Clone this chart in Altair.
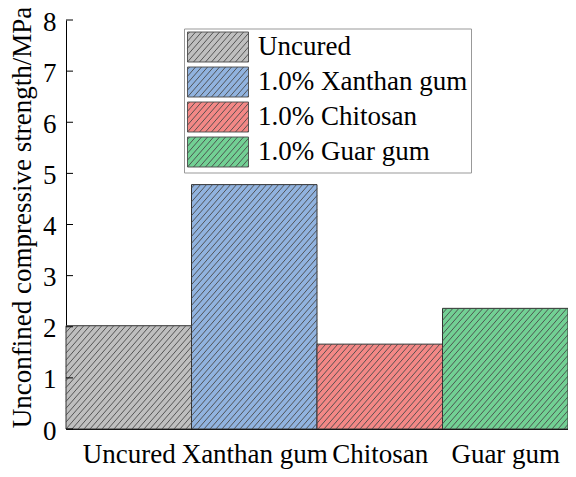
import json
import math
import altair as alt
import pandas as pd

# ---- data ----
categories = ["Uncured", "Xanthan gum", "Chitosan", "Guar gum"]
legend_labels = ["Uncured", "1.0% Xanthan gum", "1.0% Chitosan", "1.0% Guar gum"]
strength = [2.02, 4.78, 1.66, 2.36]
fill_colors = ["#bfbfbf", "#91b3df", "#f38886", "#72d094"]
y_ticks = [0, 1, 2, 3, 4, 5, 6, 7, 8]

# ---- layout / style constants ----
PLOT_W = 502
PLOT_H = 409
Y_MAX = 8
FONT = "Liberation Serif"
FS = 27
HATCH_STEP = 6.0     # px, horizontal spacing of hatch lines
HATCH_SLOPE = 1.15   # px up per px right
HATCH_COLOR = "#4a4a4a"

n = len(categories)
px_x = PLOT_W / n
px_y = PLOT_H / Y_MAX

bars = pd.DataFrame({
    "cat": categories,
    "legend": legend_labels,
    "value": strength,
    "x0": [i for i in range(n)],
    "x1": [i + 1 for i in range(n)],
})

# hatch segments clipped to each bar (derived from the bar values)
rows = []
for i, v in enumerate(strength):
    L, R, H = i * px_x, (i + 1) * px_x, v * px_y
    k0 = math.floor((L - H / HATCH_SLOPE) / HATCH_STEP) - 1
    k1 = math.ceil(R / HATCH_STEP) + 1
    for k in range(k0, k1 + 1):
        c = k * HATCH_STEP
        ylo = max(0.0, HATCH_SLOPE * (L - c))
        yhi = min(H, HATCH_SLOPE * (R - c))
        if yhi - ylo > 0.5:
            rows.append({
                "hx": (c + ylo / HATCH_SLOPE) / px_x,
                "hx2": (c + yhi / HATCH_SLOPE) / px_x,
                "hy": ylo / px_y,
                "hy2": yhi / px_y,
            })
hatch = pd.DataFrame(rows)

# legend symbol: 61x30 px rectangle with hatch lines (unit = 15 px)
SYM_W, SYM_H, UNIT = 61.0, 30.0, 15.0
segs = []
for k in range(-10, 20):
    c = k * HATCH_STEP
    hlo = max(0.0, HATCH_SLOPE * (0 - c))
    hhi = min(SYM_H, HATCH_SLOPE * (SYM_W - c))
    if hhi - hlo > 0.5:
        xa, ya = c + hlo / HATCH_SLOPE, SYM_H - hlo
        xb, yb = c + hhi / HATCH_SLOPE, SYM_H - hhi
        segs.append("M%.3f,%.3fL%.3f,%.3f" % (xa / UNIT - 1, ya / UNIT - 1, xb / UNIT - 1, yb / UNIT - 1))
sym_path = "M-1,-1H%.3fV1H-1Z" % (SYM_W / UNIT - 1) + "".join(segs)

ticks_df = pd.DataFrame({"t": y_ticks})

x_scale = alt.Scale(domain=[0, n], nice=False, zero=False)
y_scale = alt.Scale(domain=[0, Y_MAX], nice=False)

label_expr = json.dumps(categories) + "[floor(datum.value)]"

bar_layer = alt.Chart(bars).mark_rect(stroke="#333333", strokeWidth=1).encode(
    x=alt.X("x0:Q", scale=x_scale, axis=alt.Axis(
        title=None, values=[i + 0.5 for i in range(n)], labelExpr=label_expr,
        labelPadding=33, labelBaseline="alphabetic",
        labelFlush=False, labelOverlap=False, labelBound=False)),
    x2="x1:Q",
    y=alt.Y("value:Q", scale=y_scale, axis=alt.Axis(
        title="Unconfined compressive strength/MPa", values=y_ticks,
        labelPadding=10, labelOffset=2, titleX=-44, titleY=197,
        titleBaseline="middle")),
    y2=alt.datum(0),
    fill=alt.Fill("legend:N", sort=legend_labels,
                  scale=alt.Scale(domain=legend_labels, range=fill_colors),
                  legend=alt.Legend(
                      title=None, orient="none", legendX=118, legendY=8.5,
                      symbolType=sym_path, symbolSize=900,
                      symbolStrokeColor=HATCH_COLOR, symbolStrokeWidth=0.9,
                      symbolOpacity=1, labelFont=FONT, labelFontSize=FS,
                      labelColor="black", labelLimit=400, labelOffset=40,
                      strokeColor="#999999", fillColor="white",
                      padding=3, rowPadding=0)),
)

hatch_layer = alt.Chart(hatch).mark_rule(color=HATCH_COLOR, strokeWidth=0.9).encode(
    x="hx:Q", x2="hx2:Q", y="hy:Q", y2="hy2:Q"
)

tick_layer = alt.Chart(ticks_df).mark_rule(color="black", strokeWidth=1).encode(
    x=alt.value(0), x2=alt.value(7), y="t:Q"
)

chart = alt.layer(bar_layer, hatch_layer, tick_layer).properties(
    width=PLOT_W, height=PLOT_H,
    autosize=alt.AutoSizeParams(type="none"),
    padding={"left": 58, "top": 12, "right": 0, "bottom": 40},
).configure_view(stroke=None).configure_axis(
    labelFont=FONT, titleFont=FONT, labelFontSize=FS, titleFontSize=FS,
    labelColor="black", titleColor="black", titleFontWeight="normal",
    ticks=False, tickSize=0, grid=False, domainColor="black", domainWidth=1
).configure_legend(labelFont=FONT)

chart.save("out.html", embed_options={"renderer": "svg", "actions": False})
